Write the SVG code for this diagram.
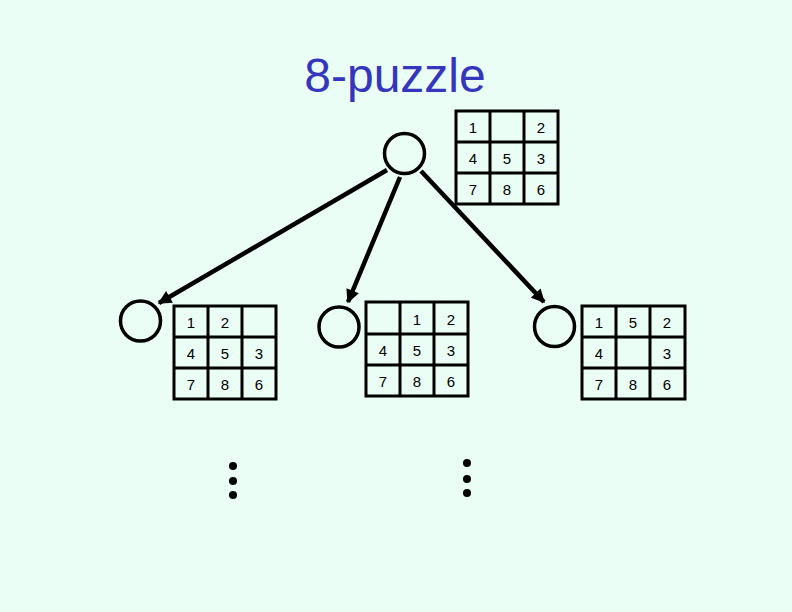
<svg xmlns="http://www.w3.org/2000/svg" width="792" height="612" viewBox="0 0 792 612">
<defs>
<style>
.bg{fill:#EAFEF5}
.title{font-family:"Liberation Sans",Arial,sans-serif;font-size:48px;fill:#3535BD;text-anchor:middle}
.node{fill:none;stroke:#000;stroke-width:3.5}
.grid{fill:none;stroke:#000;stroke-width:3}
.num{font-family:"Liberation Sans",Arial,sans-serif;font-size:15px;fill:#000;text-anchor:middle}
.edge{stroke:#000;stroke-width:4.5;fill:none;marker-end:url(#ah)}
.dot{fill:#000}
</style>
<marker id="ah" viewBox="0 0 10 10" refX="9" refY="5" markerWidth="3.2" markerHeight="3" orient="auto" markerUnits="strokeWidth">
<path d="M0,0 L10,5 L0,10 Z" fill="#000"/>
</marker>
</defs>
<rect class="bg" x="0" y="0" width="792" height="612"/>
<text class="title" x="395" y="92">8-puzzle</text>

<g id="connectors">
<line class="edge" x1="387" y1="170" x2="159" y2="303"/>
<line class="edge" x1="400" y1="177" x2="348" y2="302"/>
<line class="edge" x1="421" y1="171" x2="544" y2="302"/>
</g>

<g id="root">
<circle class="node" cx="404.5" cy="153.5" r="20"/>
<g class="grid">
<rect x="456" y="111" width="102" height="93"/>
<line x1="490" y1="111" x2="490" y2="204"/><line x1="524" y1="111" x2="524" y2="204"/>
<line x1="456" y1="142" x2="558" y2="142"/><line x1="456" y1="173" x2="558" y2="173"/>
</g>
<text class="num" x="473" y="133">1</text><text class="num" x="541" y="133">2</text>
<text class="num" x="473" y="164">4</text><text class="num" x="507" y="164">5</text><text class="num" x="541" y="164">3</text>
<text class="num" x="473" y="195">7</text><text class="num" x="507" y="195">8</text><text class="num" x="541" y="195">6</text>
</g>

<g id="child-left">
<circle class="node" cx="140.5" cy="321" r="20"/>
<g class="grid">
<rect x="174" y="306" width="102" height="93"/>
<line x1="208" y1="306" x2="208" y2="399"/><line x1="242" y1="306" x2="242" y2="399"/>
<line x1="174" y1="337" x2="276" y2="337"/><line x1="174" y1="368" x2="276" y2="368"/>
</g>
<text class="num" x="191" y="328">1</text><text class="num" x="225" y="328">2</text>
<text class="num" x="191" y="359">4</text><text class="num" x="225" y="359">5</text><text class="num" x="259" y="359">3</text>
<text class="num" x="191" y="390">7</text><text class="num" x="225" y="390">8</text><text class="num" x="259" y="390">6</text>
</g>

<g id="child-middle">
<circle class="node" cx="339" cy="327" r="20"/>
<g class="grid">
<rect x="366" y="302" width="102" height="94"/>
<line x1="400" y1="302" x2="400" y2="396"/><line x1="434" y1="302" x2="434" y2="396"/>
<line x1="366" y1="334" x2="468" y2="334"/><line x1="366" y1="365" x2="468" y2="365"/>
</g>
<text class="num" x="417" y="325">1</text><text class="num" x="451" y="325">2</text>
<text class="num" x="383" y="356">4</text><text class="num" x="417" y="356">5</text><text class="num" x="451" y="356">3</text>
<text class="num" x="383" y="387">7</text><text class="num" x="417" y="387">8</text><text class="num" x="451" y="387">6</text>
</g>

<g id="child-right">
<circle class="node" cx="554.5" cy="326.5" r="20"/>
<g class="grid">
<rect x="582" y="306" width="103" height="93"/>
<line x1="616" y1="306" x2="616" y2="399"/><line x1="650" y1="306" x2="650" y2="399"/>
<line x1="582" y1="337" x2="685" y2="337"/><line x1="582" y1="368" x2="685" y2="368"/>
</g>
<text class="num" x="599" y="328">1</text><text class="num" x="633" y="328">5</text><text class="num" x="667" y="328">2</text>
<text class="num" x="599" y="359">4</text><text class="num" x="667" y="359">3</text>
<text class="num" x="599" y="390">7</text><text class="num" x="633" y="390">8</text><text class="num" x="667" y="390">6</text>
</g>

<g id="ellipsis-left">
<circle class="dot" cx="233" cy="466" r="4"/><circle class="dot" cx="233" cy="481" r="4"/><circle class="dot" cx="233" cy="495" r="4"/>
</g>
<g id="ellipsis-right">
<circle class="dot" cx="467" cy="463" r="4"/><circle class="dot" cx="467" cy="479" r="4"/><circle class="dot" cx="467" cy="493" r="4"/>
</g>
</svg>
